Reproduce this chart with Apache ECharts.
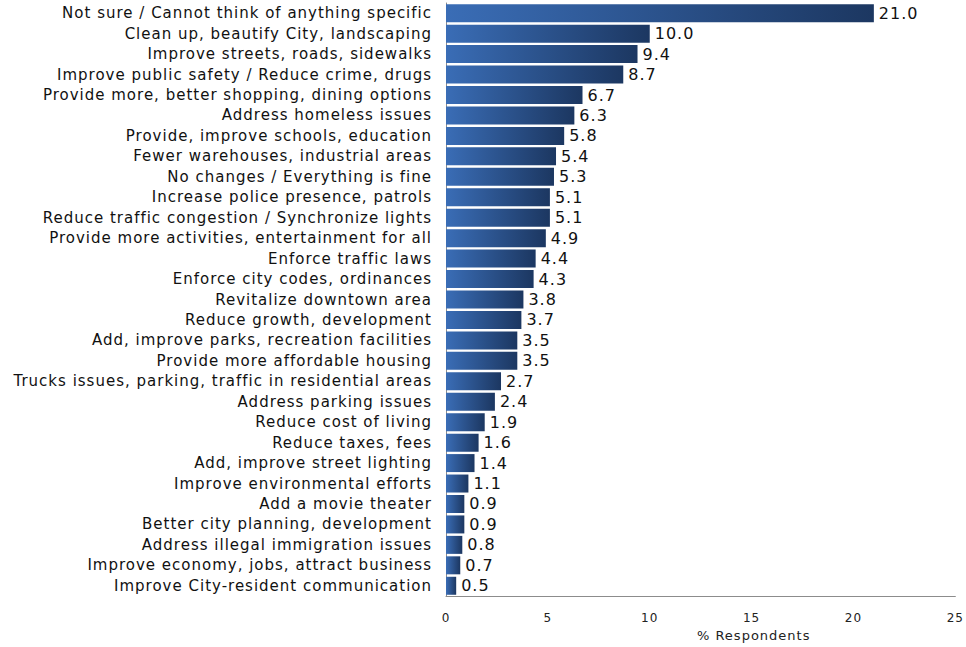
<!DOCTYPE html>
<html><head><meta charset="utf-8">
<script src="https://cdn.jsdelivr.net/npm/echarts@6/dist/echarts.min.js"></script>
<style>html,body{margin:0;padding:0;background:#fff}#c{width:966px;height:647px}#c text{letter-spacing:1px}</style>
</head><body><div id="c"></div>
<script>
const categories = [
"Not sure / Cannot think of anything specific",
"Clean up, beautify City, landscaping",
"Improve streets, roads, sidewalks",
"Improve public safety / Reduce crime, drugs",
"Provide more, better shopping, dining options",
"Address homeless issues",
"Provide, improve schools, education",
"Fewer warehouses, industrial areas",
"No changes / Everything is fine",
"Increase police presence, patrols",
"Reduce traffic congestion / Synchronize lights",
"Provide more activities, entertainment for all",
"Enforce traffic laws",
"Enforce city codes, ordinances",
"Revitalize downtown area",
"Reduce growth, development",
"Add, improve parks, recreation facilities",
"Provide more affordable housing",
"Trucks issues, parking, traffic in residential areas",
"Address parking issues",
"Reduce cost of living",
"Reduce taxes, fees",
"Add, improve street lighting",
"Improve environmental efforts",
"Add a movie theater",
"Better city planning, development",
"Address illegal immigration issues",
"Improve economy, jobs, attract business",
"Improve City-resident communication"
];
const values = [21.0,10.0,9.4,8.7,6.7,6.3,5.8,5.4,5.3,5.1,5.1,4.9,4.4,4.3,3.8,3.7,3.5,3.5,2.7,2.4,1.9,1.6,1.4,1.1,0.9,0.9,0.8,0.7,0.5];
const xTicks = [0,5,10,15,20,25];
const axisName = "% Respondents";

const chart = echarts.init(document.getElementById('c'), null, {renderer:'svg'});
chart.setOption({
  animation:false,
  grid:{left:446,right:9,top:3,bottom:49,containLabel:false},
  xAxis:{
    type:'value',min:xTicks[0],max:xTicks[xTicks.length-1],interval:5,
    splitLine:{show:false},
    axisLine:{show:true,lineStyle:{color:'#8c8c8c',width:1}},
    axisTick:{show:false},
    axisLabel:{color:'#222',fontFamily:'DejaVu Sans',fontSize:12,margin:16},
    name:axisName,nameLocation:'middle',nameGap:33,
    nameTextStyle:{color:'#222',fontFamily:'DejaVu Sans',fontSize:13,padding:[0,0,0,106]}
  },
  yAxis:{
    type:'category',data:categories,inverse:true,
    axisLine:{show:true,lineStyle:{color:'#8c8c8c',width:1}},
    axisTick:{show:false},
    axisLabel:{color:'#111',fontFamily:'DejaVu Sans',fontSize:15,margin:14}
  },
  series:[{
    type:'bar',data:values,barCategoryGap:'12%',
    itemStyle:{color:new echarts.graphic.LinearGradient(0,0,1,0,[
      {offset:0,color:'#3a6db6'},{offset:1,color:'#1c3761'}])},
    label:{show:true,position:'right',distance:5,color:'#111',fontFamily:'DejaVu Sans',fontSize:16,
      formatter:p=>p.value.toFixed(1)}
  }]
});
</script></body></html>
